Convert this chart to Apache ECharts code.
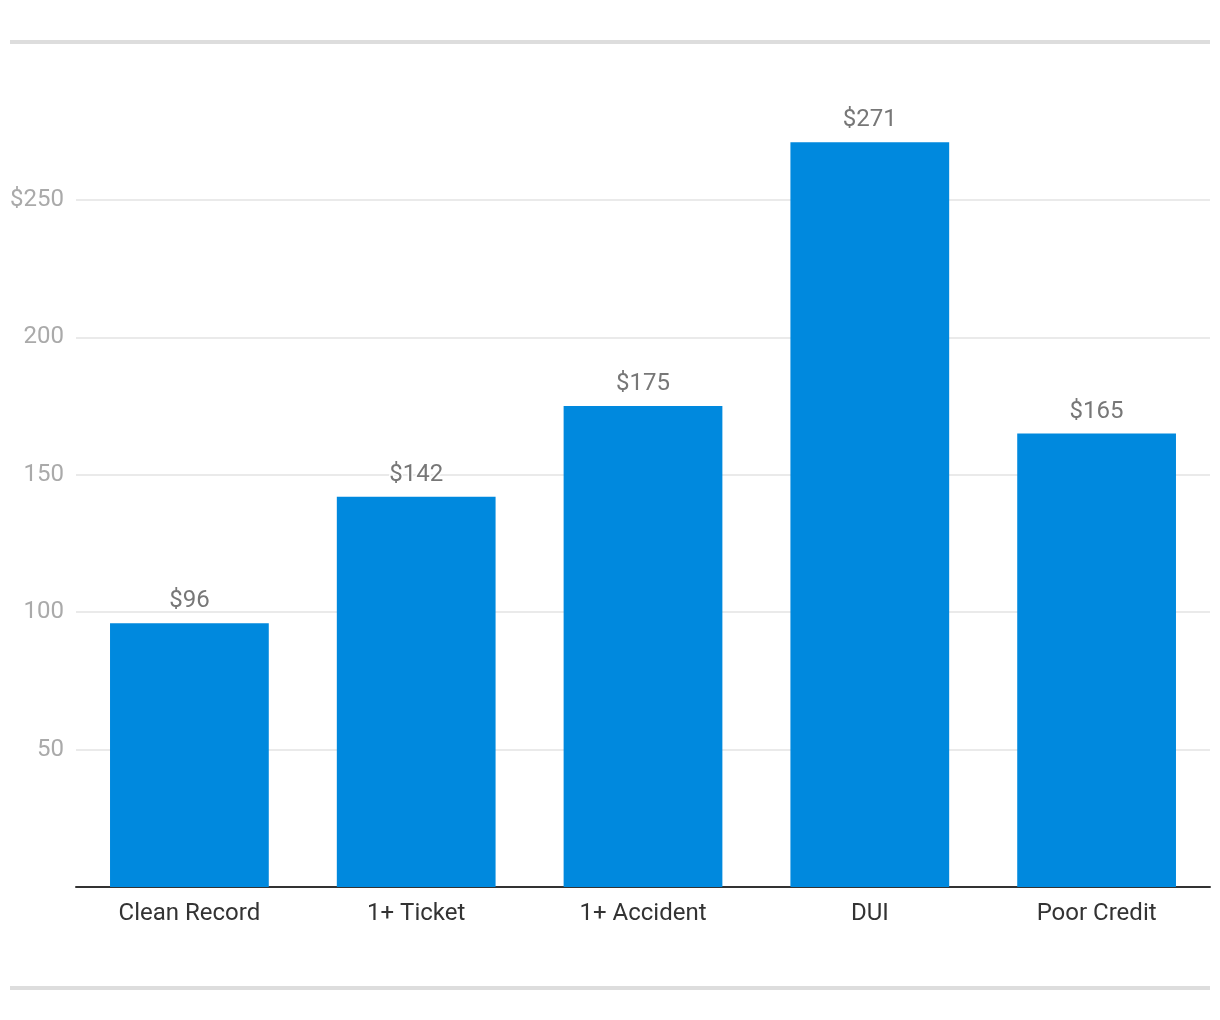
<!DOCTYPE html>
<html><head><meta charset="utf-8">
<script src="https://cdn.jsdelivr.net/npm/echarts@6/dist/echarts.min.js"></script>
<style>html,body{margin:0;padding:0;background:#fff}#c{width:1220px;height:1020px}</style>
</head><body><div id="c"></div>
<script>
var categories = ['Clean Record', '1+ Ticket', '1+ Accident', 'DUI', 'Poor Credit'];
var values = [96, 142, 175, 271, 165];
var yTicks = [0, 50, 100, 150, 200, 250];

var chart = echarts.init(document.getElementById('c'), null, {renderer: 'canvas'});
chart.setOption({
  animation: false,
  textStyle: {fontFamily: 'Roboto'},
  grid: {left: 76, right: 10, top: 62.6, bottom: 133, containLabel: false},
  graphic: [
    {type: 'rect', shape: {x: 10, y: 40, width: 1200, height: 4}, style: {fill: '#dddddd'}},
    {type: 'rect', shape: {x: 10, y: 986, width: 1200, height: 4}, style: {fill: '#dddddd'}}
  ],
  xAxis: {
    type: 'category', data: categories,
    axisLine: {show: true, lineStyle: {color: '#333', width: 2}},
    axisTick: {show: false},
    axisLabel: {color: '#333', fontSize: 24, margin: 15, fontFamily: 'Roboto'}
  },
  yAxis: {
    type: 'value', min: 0, max: 300, interval: 50,
    axisLine: {show: false}, axisTick: {show: false},
    splitLine: {show: true, showMinLine: false, showMaxLine: false, lineStyle: {color: '#e3e3e3', width: 1.5}},
    axisLabel: {
      color: '#aaaaaa', fontSize: 24, margin: 12, fontFamily: 'Roboto',
      padding: [4, 0, 0, 0],
      showMinLabel: false, showMaxLabel: false,
      formatter: function (v) { return yTicks.indexOf(v) < 0 || v === 0 ? '' : (v === 250 ? '$' + v : String(v)); }
    }
  },
  series: [{
    type: 'bar', data: values, barCategoryGap: '30%',
    itemStyle: {color: '#0089de'},
    label: {
      show: true, position: 'top', distance: 10, color: '#777', fontSize: 24, fontFamily: 'Roboto',
      textBorderColor: '#fff', textBorderWidth: 3,
      formatter: function (p) { return '$' + p.value; }
    }
  }]
});
</script></body></html>
